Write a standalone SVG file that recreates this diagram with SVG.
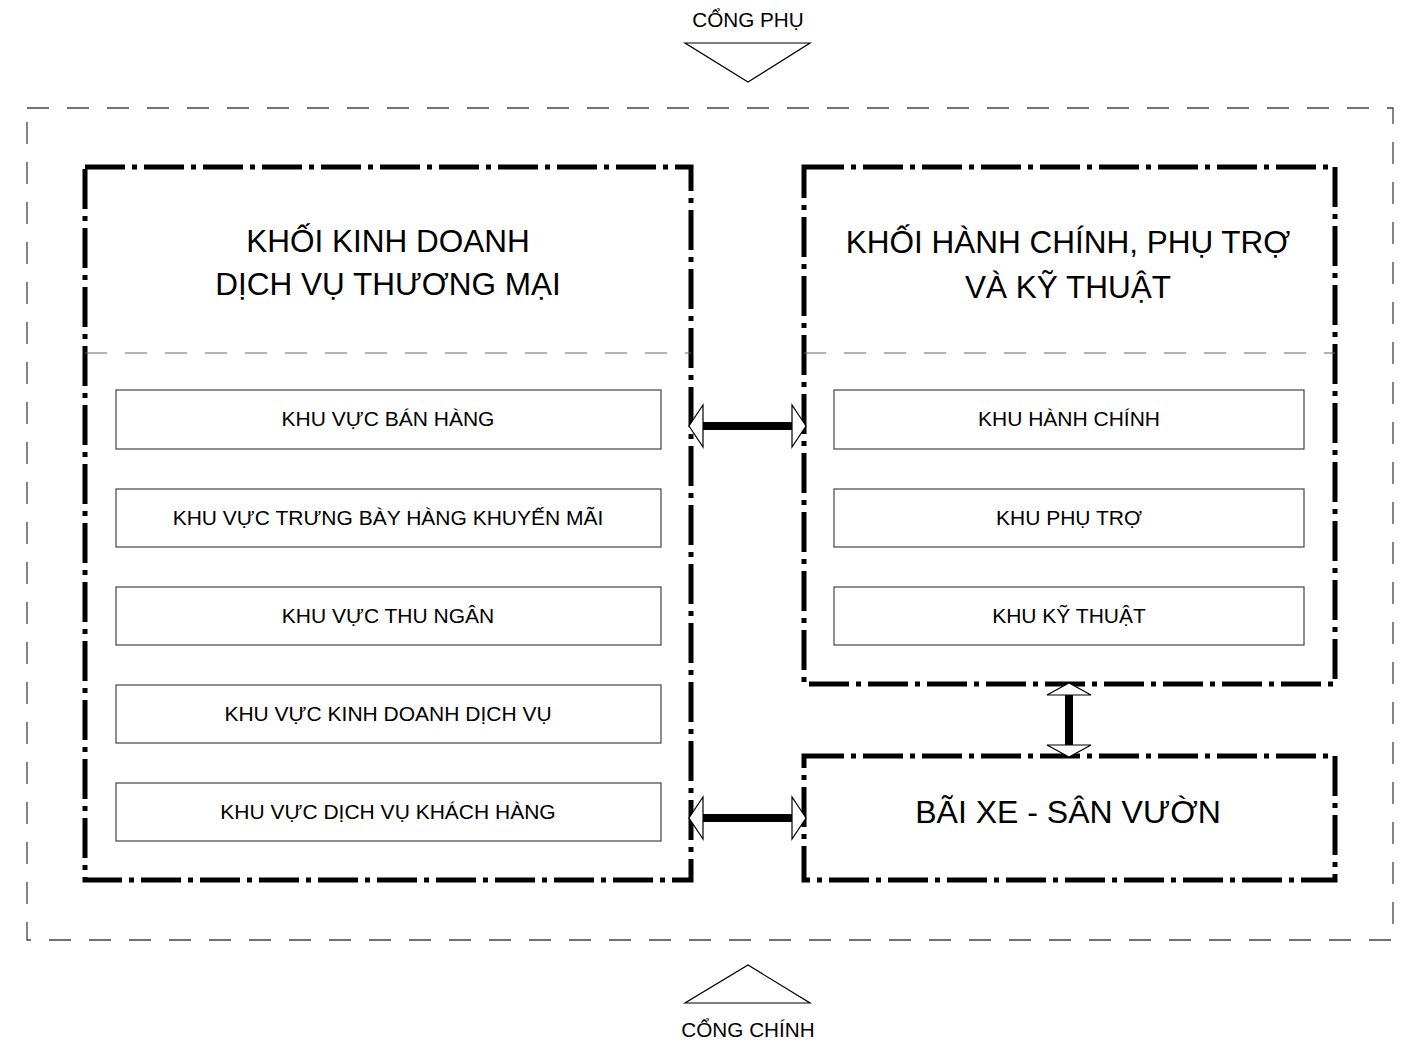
<svg xmlns="http://www.w3.org/2000/svg" width="1405" height="1046" viewBox="0 0 1405 1046">
<style>
text{font-family:"Liberation Sans",Arial,sans-serif;fill:#000;text-anchor:middle}
.outer{fill:none;stroke:#444;stroke-width:1.3;stroke-dasharray:22 18}
.block{fill:none;stroke:#000;stroke-width:5;stroke-dasharray:40 7 5 7}
.sep{fill:none;stroke:#666;stroke-width:1;stroke-dasharray:22 18}
.box{fill:#fff;stroke:#444;stroke-width:1.2}
.tri{fill:#fff;stroke:#000;stroke-width:1.2}
.shaft{stroke:#000;stroke-width:8}
.head{fill:#fff;stroke:#000;stroke-width:1.2}
.t1{font-size:31.5px}
.t2{font-size:21px}
.g{font-size:20.7px}
</style>
<rect width="1405" height="1046" fill="#fff"/>
<rect class="outer" x="27" y="108" width="1366" height="832"/>
<g id="cong-phu">
<polygon class="tri" points="685,43 810,43 748,82"/>
<text class="g" x="748" y="27">CỔNG PHỤ</text>
</g>
<g id="cong-chinh">
<polygon class="tri" points="685,1003 810,1003 748,965"/>
<text class="g" x="748" y="1037">CỔNG CHÍNH</text>
</g>
<g id="khoi-kinh-doanh">
<rect class="block" x="85" y="167" width="606" height="713"/>
<line class="sep" x1="85" y1="353" x2="691" y2="353"/>
<text class="t1" x="388" y="252">KHỐI KINH DOANH</text>
<text class="t1" x="388" y="295">DỊCH VỤ THƯƠNG MẠI</text>
</g>
<g id="kv-ban-hang"><rect class="box" x="116" y="390" width="545" height="59"/><text class="t2" x="388" y="426">KHU VỰC BÁN HÀNG</text></g>
<g id="kv-trung-bay"><rect class="box" x="116" y="489" width="545" height="58"/><text class="t2" x="388" y="525">KHU VỰC TRƯNG BÀY HÀNG KHUYẾN MÃI</text></g>
<g id="kv-thu-ngan"><rect class="box" x="116" y="587" width="545" height="58"/><text class="t2" x="388" y="623">KHU VỰC THU NGÂN</text></g>
<g id="kv-kinh-doanh-dv"><rect class="box" x="116" y="685" width="545" height="58"/><text class="t2" x="388" y="721">KHU VỰC KINH DOANH DỊCH VỤ</text></g>
<g id="kv-dv-khach-hang"><rect class="box" x="116" y="783" width="545" height="58"/><text class="t2" x="388" y="819">KHU VỰC DỊCH VỤ KHÁCH HÀNG</text></g>
<g id="khoi-hanh-chinh">
<rect class="block" x="804" y="167" width="531" height="517"/>
<line class="sep" x1="804" y1="353" x2="1335" y2="353"/>
<text class="t1" x="1068" y="253">KHỐI HÀNH CHÍNH, PHỤ TRỢ</text>
<text class="t1" x="1068" y="298">VÀ KỸ THUẬT</text>
</g>
<g id="khu-hanh-chinh"><rect class="box" x="834" y="390" width="470" height="59"/><text class="t2" x="1069" y="426">KHU HÀNH CHÍNH</text></g>
<g id="khu-phu-tro"><rect class="box" x="834" y="489" width="470" height="58"/><text class="t2" x="1069" y="525">KHU PHỤ TRỢ</text></g>
<g id="khu-ky-thuat"><rect class="box" x="834" y="587" width="470" height="58"/><text class="t2" x="1069" y="623">KHU KỸ THUẬT</text></g>
<g id="bai-xe">
<rect class="block" x="804" y="756" width="531" height="124"/>
<text x="1068" y="823" style="font-size:32px">BÃI XE - SÂN VƯỜN</text>
</g>
<g id="connectors">
<line class="shaft" x1="702" y1="426" x2="793" y2="426"/>
<polygon class="head" points="689,426 703,405 703,447"/>
<polygon class="head" points="806,426 792,405 792,447"/>
<line class="shaft" x1="702" y1="818" x2="793" y2="818"/>
<polygon class="head" points="689,818 703,797 703,839"/>
<polygon class="head" points="806,818 792,797 792,839"/>
<line class="shaft" x1="1069" y1="694" x2="1069" y2="746"/>
<polygon class="head" points="1069,683 1047,695 1091,695"/>
<polygon class="head" points="1069,757 1047,745 1091,745"/>
</g>
</svg>
